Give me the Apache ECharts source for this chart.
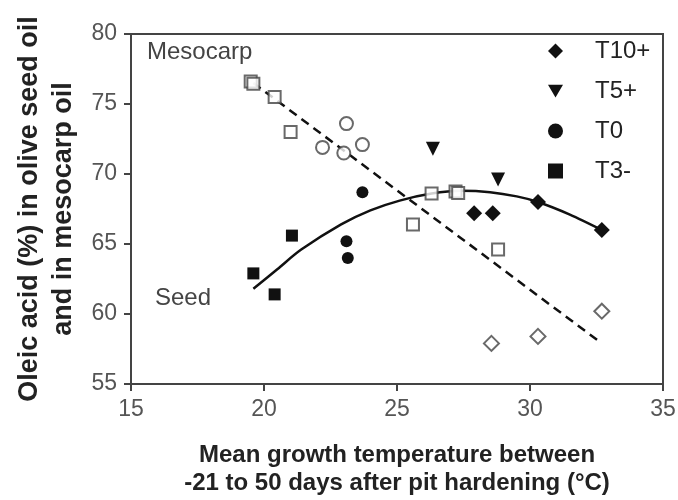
<!DOCTYPE html>
<html>
<head>
<meta charset="utf-8">
<script src="https://cdn.jsdelivr.net/npm/echarts@6/dist/echarts.min.js"></script>
<style>
  html, body { margin: 0; padding: 0; background: #fff; }
  #chart { width: 678px; height: 500px; }
</style>
</head>
<body>
<div id="chart"></div>
<script>
// seed oil (filled markers), [temperature, oleic %]
const seedT10 = [[27.9, 67.2], [28.6, 67.2], [30.3, 68.0], [32.7, 66.0]];
const seedT5 = [[26.35, 71.8], [28.8, 69.6]];
const seedT0 = [[23.7, 68.7], [23.1, 65.2], [23.15, 64.0]];
const seedT3 = [[19.6, 62.9], [20.4, 61.4], [21.05, 65.6]];

// mesocarp oil (open markers)
const mesoSquares = [[19.5, 76.6], [19.6, 76.45], [20.4, 75.5], [21.0, 73.0], [25.6, 66.4], [26.3, 68.6], [27.2, 68.75], [27.3, 68.65], [28.8, 64.6]];
const mesoCircles = [[22.2, 71.9], [23.1, 73.6], [23.0, 71.5], [23.7, 72.1]];
const mesoDiamonds = [[28.55, 57.9], [30.3, 58.4], [32.7, 60.2]];

// fitted lines
const seedCurve = [[19.6, 61.8], [20.5, 63.2], [21.4, 64.6], [22.9, 66.4], [24.0, 67.4], [25.1, 68.1], [26.3, 68.6], [27.4, 68.8], [28.5, 68.7], [29.5, 68.4], [30.3, 68.0], [31.5, 67.1], [32.7, 66.0]];
const mesoLine = [[19.6, 76.5], [32.7, 57.9]];

const legendNames = ['T10+', 'T5+', 'T0', 'T3-'];
const xTicks = [15, 20, 25, 30, 35];
const yTicks = [55, 60, 65, 70, 75, 80];

const font = 'Liberation Sans, Arial, sans-serif';
const triDown = 'path://M0,0 L20,0 L10,17 Z';
const ink = '#111';
const openStyle = { color: '#fff', borderColor: '#444', borderWidth: 2 };

const chart = echarts.init(document.getElementById('chart'));

const filled = (name, data, symbol, size) => ({
  name, type: 'scatter', data, symbol, symbolSize: size,
  itemStyle: { color: ink, opacity: 1 }, z: 4
});
const open = (name, data, symbol, size) => ({
  name, type: 'scatter', data, symbol, symbolSize: size,
  itemStyle: openStyle, z: 3
});

chart.setOption({
  animation: false,
  textStyle: { fontFamily: font },
  grid: {
    left: 131, right: 15, top: 34, bottom: 116, outerBoundsMode: 'none',
    show: true, borderColor: '#444', borderWidth: 2
  },
  legend: {
    orient: 'vertical', left: 548, top: 39, padding: 0,
    itemWidth: 15, itemHeight: 15, itemGap: 16,
    textStyle: { fontSize: 24, color: '#222', lineHeight: 24, padding: [0, 0, 0, 27] },
    data: [
      { name: legendNames[0], icon: 'diamond' },
      { name: legendNames[1], icon: triDown },
      { name: legendNames[2], icon: 'circle' },
      { name: legendNames[3], icon: 'rect' }
    ]
  },
  xAxis: {
    type: 'value', min: xTicks[0], max: xTicks[xTicks.length - 1], interval: 5,
    name: 'Mean growth temperature between\n-21 to 50 days after pit hardening (°C)',
    nameLocation: 'middle', nameGap: 57,
    nameTextStyle: { fontSize: 24, fontWeight: 'bold', color: '#222', lineHeight: 28 },
    axisLine: { lineStyle: { color: '#444', width: 2 } },
    axisTick: { length: 7, lineStyle: { color: '#444', width: 2 } },
    axisLabel: { fontSize: 23, color: '#555', margin: 14 },
    splitLine: { show: false }
  },
  yAxis: {
    type: 'value', min: yTicks[0], max: yTicks[yTicks.length - 1], interval: 5,
    name: 'Oleic acid (%) in olive seed oil\nand in mesocarp oil',
    nameLocation: 'middle', nameRotate: 90, nameGap: 50,
    nameTextStyle: { fontSize: 27, fontWeight: 'bold', color: '#222', lineHeight: 34 },
    axisLine: { lineStyle: { color: '#444', width: 2 } },
    axisTick: { length: 7, lineStyle: { color: '#444', width: 2 } },
    axisLabel: { fontSize: 23, color: '#555', margin: 14 },
    splitLine: { show: false }
  },
  graphic: [
    { type: 'text', left: 147, top: 40, style: { text: 'Mesocarp', font: '24px ' + font, fill: '#444' } },
    { type: 'text', left: 155, top: 286, style: { text: 'Seed', font: '24px ' + font, fill: '#444' } }
  ],
  series: [
    {
      name: 'mesocarp fit', type: 'line', data: mesoLine, showSymbol: false, silent: true,
      lineStyle: { color: ink, width: 2.5, type: [9, 6] }, z: 2
    },
    {
      name: 'seed fit', type: 'line', data: seedCurve, smooth: 0.3, showSymbol: false, silent: true,
      lineStyle: { color: ink, width: 2.5 }, z: 2
    },
    open('Mesocarp T3-', mesoSquares, 'rect', 12),
    open('Mesocarp T0', mesoCircles, 'circle', 13),
    open('Mesocarp T10+', mesoDiamonds, 'diamond', 15),
    filled(legendNames[0], seedT10, 'diamond', 16),
    filled(legendNames[1], seedT5, triDown, 14),
    filled(legendNames[2], seedT0, 'circle', 12),
    filled(legendNames[3], seedT3, 'rect', 12)
  ]
});
</script>
</body>
</html>
